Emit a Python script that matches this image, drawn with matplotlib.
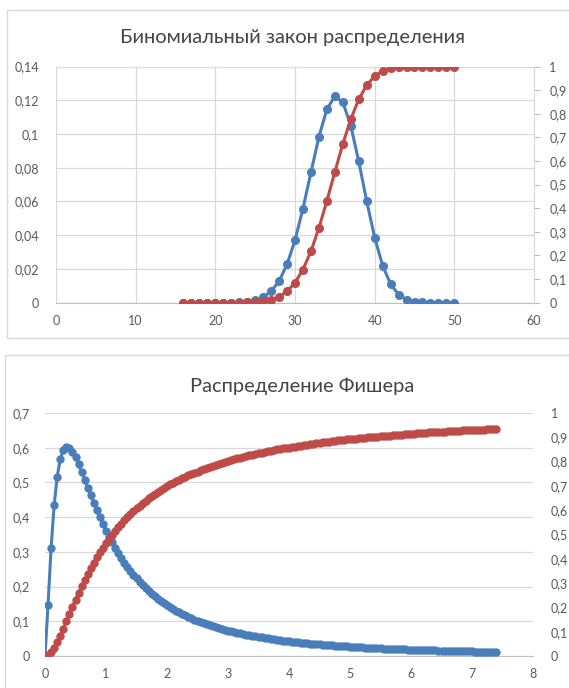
import matplotlib
matplotlib.use('Agg')
import matplotlib.pyplot as plt
from matplotlib.patches import Rectangle
from matplotlib.ticker import FuncFormatter, MultipleLocator

plt.rcParams['font.family'] = ['Lato', 'DejaVu Sans']

# --- binomial chart ---
binom_x = [16, 17, 18, 19, 20, 21, 22, 23, 24, 25, 26, 27, 28, 29, 30, 31, 32, 33,
           34, 35, 36, 37, 38, 39, 40, 41, 42, 43, 44, 45, 46, 47, 48, 49, 50]
binom_pmf = [0.0, 0.0, 0.0, 0.0, 0.0, 0.0, 0.0001, 0.0002, 0.0006, 0.0014, 0.0032,
             0.0067, 0.0128, 0.0227, 0.0370, 0.0558, 0.0772, 0.0983, 0.1147, 0.1223,
             0.1189, 0.1050, 0.0838, 0.0602, 0.0386, 0.0220, 0.0110, 0.0048, 0.0018,
             0.0006, 0.0002, 0.0, 0.0, 0.0, 0.0]
binom_cdf = [0.0, 0.0, 0.0, 0.0, 0.0, 0.0, 0.0001, 0.0003, 0.0009, 0.0023, 0.0055,
             0.0122, 0.0250, 0.0477, 0.0847, 0.1405, 0.2177, 0.3160, 0.4307, 0.5530,
             0.6719, 0.7769, 0.8607, 0.9209, 0.9595, 0.9815, 0.9925, 0.9973, 0.9991,
             0.9997, 0.9999, 1.0, 1.0, 1.0, 1.0]

# --- Fisher chart ---
fisher_x = [
    0.00, 0.05, 0.10, 0.15, 0.20, 0.25, 0.30, 0.35, 0.40, 0.45,
    0.50, 0.55, 0.60, 0.65, 0.70, 0.75, 0.80, 0.85, 0.90, 0.95,
    1.00, 1.05, 1.10, 1.15, 1.20, 1.25, 1.30, 1.35, 1.40, 1.45,
    1.50, 1.55, 1.60, 1.65, 1.70, 1.75, 1.80, 1.85, 1.90, 1.95,
    2.00, 2.05, 2.10, 2.15, 2.20, 2.25, 2.30, 2.35, 2.40, 2.45,
    2.50, 2.55, 2.60, 2.65, 2.70, 2.75, 2.80, 2.85, 2.90, 2.95,
    3.00, 3.05, 3.10, 3.15, 3.20, 3.25, 3.30, 3.35, 3.40, 3.45,
    3.50, 3.55, 3.60, 3.65, 3.70, 3.75, 3.80, 3.85, 3.90, 3.95,
    4.00, 4.05, 4.10, 4.15, 4.20, 4.25, 4.30, 4.35, 4.40, 4.45,
    4.50, 4.55, 4.60, 4.65, 4.70, 4.75, 4.80, 4.85, 4.90, 4.95,
    5.00, 5.05, 5.10, 5.15, 5.20, 5.25, 5.30, 5.35, 5.40, 5.45,
    5.50, 5.55, 5.60, 5.65, 5.70, 5.75, 5.80, 5.85, 5.90, 5.95,
    6.00, 6.05, 6.10, 6.15, 6.20, 6.25, 6.30, 6.35, 6.40, 6.45,
    6.50, 6.55, 6.60, 6.65, 6.70, 6.75, 6.80, 6.85, 6.90, 6.95,
    7.00, 7.05, 7.10, 7.15, 7.20, 7.25, 7.30, 7.35, 7.40]
fisher_pdf = [
    0.0, 0.148, 0.312, 0.435, 0.517, 0.567, 0.593, 0.602, 0.599, 0.588,
    0.572, 0.552, 0.530, 0.508, 0.485, 0.463, 0.441, 0.420, 0.399, 0.380,
    0.361, 0.344, 0.327, 0.311, 0.296, 0.282, 0.269, 0.257, 0.245, 0.234,
    0.224, 0.214, 0.205, 0.196, 0.187, 0.180, 0.172, 0.165, 0.159, 0.152,
    0.147, 0.141, 0.136, 0.131, 0.126, 0.121, 0.117, 0.113, 0.109, 0.105,
    0.101, 0.098, 0.095, 0.092, 0.089, 0.086, 0.083, 0.080, 0.078, 0.076,
    0.0732, 0.0710, 0.0689, 0.0669, 0.0650, 0.0631, 0.0613, 0.0596, 0.0580, 0.0564,
    0.0548, 0.0534, 0.0520, 0.0507, 0.0494, 0.0482, 0.0469, 0.0457, 0.0446, 0.0434,
    0.0423, 0.0413, 0.0404, 0.0394, 0.0385, 0.0376, 0.0367, 0.0359, 0.0350, 0.0342,
    0.0334, 0.0327, 0.0320, 0.0313, 0.0306, 0.0300, 0.0293, 0.0287, 0.0281, 0.0275,
    0.0269, 0.0264, 0.0259, 0.0253, 0.0248, 0.0243, 0.0239, 0.0234, 0.0229, 0.0225,
    0.0221, 0.0216, 0.0213, 0.0209, 0.0205, 0.0201, 0.0197, 0.0194, 0.0190, 0.0187,
    0.0183, 0.0180, 0.0177, 0.0174, 0.0171, 0.0168, 0.0165, 0.0162, 0.0160, 0.0157,
    0.0154, 0.0152, 0.0149, 0.0147, 0.0145, 0.0142, 0.0140, 0.0138, 0.0136, 0.0133,
    0.0131, 0.0129, 0.0127, 0.0126, 0.0124, 0.0122, 0.0120, 0.0118, 0.0116]
fisher_cdf = [
    0.0, 0.003, 0.015, 0.033, 0.057, 0.084, 0.113, 0.143, 0.173, 0.203,
    0.232, 0.260, 0.287, 0.313, 0.338, 0.362, 0.384, 0.406, 0.426, 0.446,
    0.465, 0.482, 0.499, 0.515, 0.530, 0.545, 0.559, 0.572, 0.584, 0.596,
    0.608, 0.619, 0.629, 0.639, 0.649, 0.658, 0.667, 0.675, 0.683, 0.691,
    0.698, 0.706, 0.713, 0.719, 0.726, 0.732, 0.738, 0.743, 0.749, 0.754,
    0.759, 0.764, 0.769, 0.774, 0.778, 0.783, 0.787, 0.791, 0.795, 0.799,
    0.803, 0.806, 0.810, 0.813, 0.816, 0.820, 0.823, 0.826, 0.829, 0.832,
    0.834, 0.837, 0.840, 0.842, 0.845, 0.847, 0.850, 0.852, 0.854, 0.856,
    0.858, 0.860, 0.862, 0.864, 0.866, 0.868, 0.870, 0.872, 0.874, 0.876,
    0.877, 0.879, 0.881, 0.882, 0.884, 0.885, 0.887, 0.888, 0.890, 0.891,
    0.892, 0.894, 0.895, 0.896, 0.897, 0.899, 0.900, 0.901, 0.902, 0.903,
    0.904, 0.905, 0.906, 0.907, 0.908, 0.909, 0.910, 0.911, 0.912, 0.913,
    0.914, 0.915, 0.916, 0.917, 0.918, 0.919, 0.920, 0.920, 0.921, 0.922,
    0.923, 0.923, 0.924, 0.925, 0.926, 0.926, 0.927, 0.928, 0.928, 0.929,
    0.930, 0.930, 0.931, 0.932, 0.932, 0.933, 0.934, 0.934, 0.935]

W, H = 569, 688
BLUE = '#4a7ebb'
RED = '#be4b48'
GRID = '#d9d9d9'
TXT = '#595959'


def comma(v, _pos):
    s = f"{round(v, 4):g}"
    return s.replace('.', ',')


def px_axes(fig, x0, x1, ytop, ybot):
    return fig.add_axes([x0 / W, 1 - ybot / H, (x1 - x0) / W, (ybot - ytop) / H])


def frame(fig, x0, y0, x1, y1):
    fig.add_artist(Rectangle((x0 / W, 1 - y1 / H), (x1 - x0) / W, (y1 - y0) / H,
                             transform=fig.transFigure, fill=False,
                             edgecolor=GRID, lw=1))


def style(ax, ax2):
    for a in (ax, ax2):
        for s in a.spines.values():
            s.set_visible(False)
        a.yaxis.set_major_formatter(FuncFormatter(comma))
        a.tick_params(labelsize=9, colors=TXT, length=0)
    ax.spines['bottom'].set_visible(True)
    ax.spines['bottom'].set_color('#bfbfbf')
    ax.xaxis.set_major_formatter(FuncFormatter(comma))
    ax.set_axisbelow(True)


fig = plt.figure(figsize=(W / 100, H / 100), dpi=100)

# top chart
frame(fig, 7, 10, 600, 338)
fig.text(292 / W, 1 - 38 / H, 'Биномиальный закон распределения',
         ha='center', va='center', fontsize=14.5, color='#454545')
ax = px_axes(fig, 56, 534, 66.5, 302.7)
ax2 = ax.twinx()
ax.plot(binom_x, binom_pmf, color=BLUE, lw=2.2, marker='o', ms=5.5, zorder=3)
ax2.plot(binom_x, binom_cdf, color=RED, lw=2.2, marker='o', ms=5.5, zorder=3)
ax.set_xlim(0, 60)
ax.set_ylim(0, 0.14)
ax2.set_ylim(0, 1)
ax.xaxis.set_major_locator(MultipleLocator(10))
ax.yaxis.set_major_locator(MultipleLocator(0.02))
ax2.yaxis.set_major_locator(MultipleLocator(0.1))
style(ax, ax2)
ax.grid(True, color=GRID, lw=0.9)
ax2.spines['right'].set_visible(True)
ax2.spines['right'].set_color(GRID)
ax2.tick_params(axis='y', length=4, color='#bfbfbf', pad=7)
ax.tick_params(axis='y', pad=12)
ax.tick_params(axis='x', pad=9)

# bottom chart
frame(fig, 5, 355, 600, 700)
fig.text(302 / W, 1 - 386 / H, 'Распределение Фишера',
         ha='center', va='center', fontsize=14.5, color='#454545')
bx = px_axes(fig, 45, 533, 413, 656)
bx2 = bx.twinx()
bx.plot(fisher_x, fisher_pdf, color=BLUE, lw=2.2, marker='o', ms=5, zorder=3)
bx2.plot(fisher_x, fisher_cdf, color=RED, lw=2.2, marker='o', ms=5, zorder=3)
bx.set_xlim(0, 8)
bx.set_ylim(0, 0.7)
bx2.set_ylim(0, 1)
bx.xaxis.set_major_locator(MultipleLocator(1))
bx.yaxis.set_major_locator(MultipleLocator(0.1))
bx2.yaxis.set_major_locator(MultipleLocator(0.1))
style(bx, bx2)
bx.grid(True, axis='y', color=GRID, lw=0.9)
bx.tick_params(axis='y', pad=11)
bx2.tick_params(axis='y', pad=13)
bx.tick_params(axis='x', pad=9)

fig.savefig('out.png', dpi=100)
